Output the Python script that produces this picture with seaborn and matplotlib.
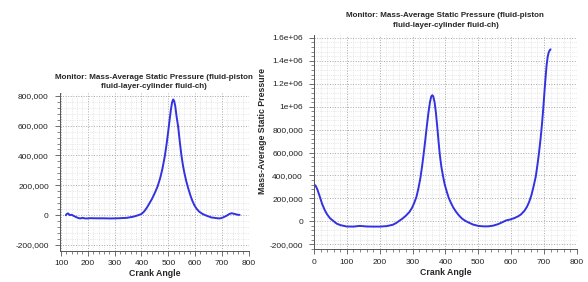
import matplotlib
matplotlib.use("Agg")
import matplotlib.pyplot as plt
import seaborn as sns
from matplotlib.ticker import FuncFormatter, MultipleLocator

sns.set_style("white")
plt.rcParams['font.family'] = ['Liberation Sans', 'DejaVu Sans']

# left monitor (crank angle 120..760)
left_angle = [118, 121, 126, 133, 140, 146, 155, 163, 171, 180, 190, 196, 210, 230, 260, 282,
              310, 345, 370, 385, 400, 410, 420, 430, 440, 450, 460, 470, 478, 487, 494, 500,
              505, 510, 514, 518, 522, 526, 531, 537, 543, 549, 555, 561, 567, 574, 582, 590,
              598, 606, 615, 628, 642, 660, 680, 692, 705, 717, 728, 736, 748, 758, 766]
left_pressure = [0, 7e3, 12e3, 0, 3e3, -4e3, -12e3, -18e3, -22e3, -18e3, -22e3, -22e3, -20e3,
                 -21e3, -21e3, -22e3, -21e3, -18e3, -10e3, -2e3, 8e3, 25e3, 50e3, 80e3, 112e3,
                 150e3, 192e3, 250e3, 310e3, 395e3, 480e3, 565e3, 640e3, 710e3, 755e3, 775e3,
                 765e3, 730e3, 660e3, 590e3, 490e3, 400e3, 330e3, 275e3, 228e3, 182e3, 135e3,
                 95e3, 64e3, 42e3, 24e3, 8e3, -3e3, -15e3, -20e3, -22e3, -15e3, -4e3, 8e3, 13e3,
                 8e3, 3e3, 2e3]

# right monitor (crank angle 0..720)
right_angle = [0, 5, 10, 18, 25, 33, 40, 49, 58, 69, 80, 99, 120, 140, 160, 180, 200, 221, 240,
               250, 260, 270, 280, 290, 298, 305, 312, 318, 324, 329, 333, 338, 343, 348, 353,
               357, 360, 363, 367, 371, 375, 379, 383, 388, 393, 398, 404, 410, 417, 424, 432,
               440, 450, 460, 470, 484, 500, 515, 530, 545, 560, 575, 585, 596, 610, 622, 630,
               640, 648, 655, 662, 668, 675, 680, 685, 690, 694, 698, 702, 705, 708, 711, 714,
               717, 720]
right_pressure = [323e3, 310e3, 280e3, 212e3, 150e3, 96e3, 60e3, 26e3, 5e3, -20e3, -33e3, -45e3,
                  -46e3, -40e3, -45e3, -46e3, -46e3, -42e3, -30e3, -15e3, 5e3, 25e3, 50e3, 80e3,
                  115e3, 160e3, 215e3, 290e3, 380e3, 480e3, 570e3, 690e3, 820e3, 940e3, 1.04e6,
                  1.09e6, 1.10e6, 1.09e6, 1.04e6, 950e3, 830e3, 700e3, 580e3, 470e3, 390e3,
                  320e3, 260e3, 205e3, 160e3, 120e3, 85e3, 55e3, 25e3, 5e3, -10e3, -28e3, -40e3,
                  -44e3, -44e3, -38e3, -25e3, -6e3, 8e3, 15e3, 28e3, 45e3, 60e3, 90e3, 125e3,
                  170e3, 230e3, 300e3, 390e3, 490e3, 600e3, 730e3, 850e3, 990e3, 1.15e6, 1.26e6,
                  1.36e6, 1.43e6, 1.47e6, 1.49e6, 1.5e6]

title = "Monitor: Mass-Average Static Pressure (fluid-piston\nfluid-layer-cylinder fluid-ch)"
line_color = '#3232e0'


def fmt(v, pos):
    if abs(v) >= 1e6:
        return f"{v:g}"
    return f"{int(round(v)):,}"


fig = plt.figure(figsize=(5.88, 2.82), dpi=100)
ax1 = fig.add_axes([0.102, 0.111, 0.321, 0.559])
ax2 = fig.add_axes([0.534, 0.116, 0.447, 0.759])

sns.lineplot(x=left_angle, y=left_pressure, ax=ax1, color=line_color, linewidth=1.4)
sns.lineplot(x=right_angle, y=right_pressure, ax=ax2, color=line_color, linewidth=1.4)

ax1.set_xlim(96, 800)
ax1.set_ylim(-238e3, 818e3)
ax1.yaxis.set_major_locator(MultipleLocator(200e3))
ax1.yaxis.set_minor_locator(MultipleLocator(40e3))

ax2.set_xlim(0, 800)
ax2.set_ylim(-244e3, 1.623e6)
ax2.yaxis.set_major_locator(MultipleLocator(200e3))
ax2.yaxis.set_minor_locator(MultipleLocator(40e3))
ax2.set_ylabel('Mass-Average Static Pressure', fontsize=6.35, fontweight='bold')

for ax in [ax1, ax2]:
    ax.xaxis.set_major_locator(MultipleLocator(100))
    ax.xaxis.set_minor_locator(MultipleLocator(20))
    ax.yaxis.set_major_formatter(FuncFormatter(fmt))
    ax.grid(which='major', color='#a8a8a8', linestyle=':', linewidth=0.7)
    ax.grid(which='minor', color='#d6d6d6', linestyle=':', linewidth=0.5)
    ax.set_axisbelow(True)
    ax.tick_params(which='major', direction='out', length=3.5, width=0.6, color='#555555',
                   labelsize=6, labelcolor='#222222')
    ax.tick_params(which='minor', direction='out', length=2, width=0.5, color='#555555')
    ax.tick_params(axis='x', which='major', pad=3.3)
    ax.tick_params(axis='y', which='major', pad=4.5)
    ax.tick_params(axis='x', bottom=True, which='both')
    ax.tick_params(axis='y', left=True, which='both')
    ax.spines['top'].set_visible(False)
    ax.spines['right'].set_visible(False)
    ax.spines['left'].set_color('#555555')
    ax.spines['bottom'].set_color('#555555')
    ax.spines['left'].set_linewidth(0.7)
    ax.spines['bottom'].set_linewidth(0.7)
    ax.set_xlabel('Crank Angle', fontsize=6.3, fontweight='bold', labelpad=1.5)

ax1.set_title(title, fontsize=5.75, fontweight='bold', pad=3.3, linespacing=1.55)
ax2.set_title(title, fontsize=5.75, fontweight='bold', pad=6, linespacing=1.55)
ax2.yaxis.set_label_coords(-0.18, 0.553)

fig.savefig('out.png', dpi=100)
